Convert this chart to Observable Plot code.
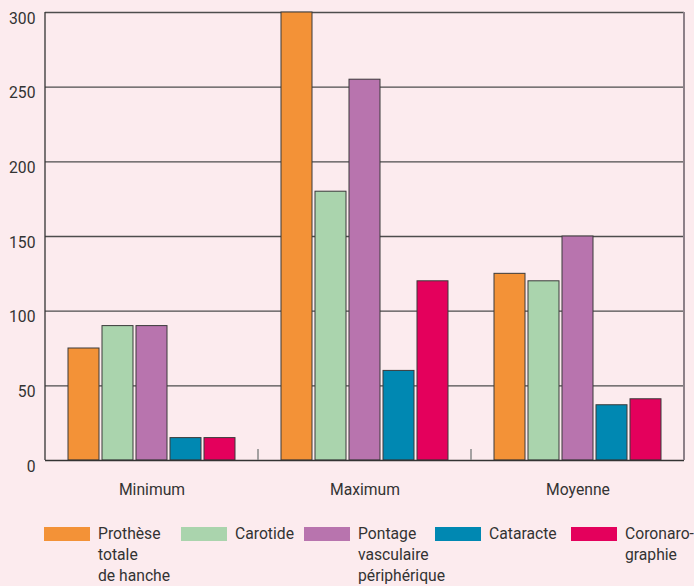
<!DOCTYPE html>
<html>
<head>
<meta charset="utf-8">
<script src="https://cdn.jsdelivr.net/npm/d3@7"></script>
<script src="https://cdn.jsdelivr.net/npm/@observablehq/plot@0.6"></script>
<style>
  html, body { margin: 0; padding: 0; background: #fcebee; }
  body { width: 694px; height: 586px; overflow: hidden; font-family: Roboto, "Noto Sans", sans-serif; color: #333; }
  #legend { position: relative; height: 86px; }
  .item { position: absolute; top: 23px; display: flex; align-items: flex-start; }
  .sw { width: 46px; height: 14px; margin-top: 4px; margin-right: 8px; flex: none; }
  .lab { font-size: 15.7px; line-height: 21px; white-space: nowrap; color: #333; }
</style>
</head>
<body>
<div id="chart"></div>
<div id="legend"></div>
<script>
const groups = ["Minimum", "Maximum", "Moyenne"];
const series = ["Prothèse totale de hanche", "Carotide", "Pontage vasculaire périphérique", "Cataracte", "Coronarographie"];
const legendLines = [["Prothèse", "totale", "de hanche"], ["Carotide"], ["Pontage", "vasculaire", "périphérique"], ["Cataracte"], ["Coronaro-", "graphie"]];
const colors = ["#f39237", "#aad4ad", "#b874ae", "#0088b2", "#e4005c"];
const minimum = [75, 90, 90, 15, 15];
const maximum = [300, 180, 255, 60, 120];
const moyenne = [125, 120, 150, 37, 41];
const yTicks = [0, 50, 100, 150, 200, 250, 300];

const valuesByGroup = [minimum, maximum, moyenne];
const data = [];
groups.forEach((g, gi) => series.forEach((s, si) => data.push({group: g, series: s, value: valuesByGroup[gi][si]})));

const plot = Plot.plot({
  width: 694,
  height: 500,
  marginLeft: 44,
  marginRight: 9,
  marginTop: 12,
  marginBottom: 40,
  style: {background: "transparent", fontFamily: "Roboto, 'Noto Sans', sans-serif", fontSize: "15.7px", color: "#333"},
  fx: {domain: groups, padding: 0, label: null},
  x: {domain: series, paddingInner: 0.094, paddingOuter: 0.677, axis: null},
  y: {domain: [0, 300], axis: null},
  color: {domain: series, range: colors},
  marks: [
    Plot.ruleY(yTicks.filter(d => d > 0), {stroke: "#4d4d4d", strokeWidth: 1.3}),
    Plot.barY(data, {fx: "group", x: "series", y: "value", fill: "series", stroke: "#3a3a3a", strokeWidth: 1}),
    Plot.ruleY([0], {stroke: "#333", strokeWidth: 1.3}),
    Plot.axisY({ticks: yTicks, tickSize: 0, tickPadding: 10, dy: 6, label: null, fontSize: 15.7}),
    Plot.axisFx({anchor: "bottom", tickSize: 0, tickPadding: 23, label: null, fontSize: 15.7})
  ]
});
document.getElementById("chart").appendChild(plot);

// frame lines and group separators derived from the plot's scales
const fx = plot.scale("fx");
const y = plot.scale("y");
const svg = d3.select(plot);
const left = fx.apply(groups[0]);
const right = fx.apply(groups[groups.length - 1]) + fx.step;
const y0 = y.apply(0), yTop = y.apply(300);
svg.append("line").attr("x1", left).attr("x2", left).attr("y1", yTop).attr("y2", y0)
  .attr("stroke", "#333").attr("stroke-width", 1.3);
svg.append("line").attr("x1", right).attr("x2", right).attr("y1", yTop).attr("y2", y0)
  .attr("stroke", "#8c8088").attr("stroke-width", 2);
groups.slice(1).forEach(g => {
  const xb = fx.apply(g);
  svg.append("line").attr("x1", xb).attr("x2", xb).attr("y1", y0).attr("y2", y0 - 11)
    .attr("stroke", "#888").attr("stroke-width", 1.5);
});

// legend
const lefts = [44, 181, 304, 435, 571];
const legend = d3.select("#legend");
series.forEach((s, i) => {
  const it = legend.append("div").attr("class", "item").style("left", lefts[i] + "px");
  it.append("div").attr("class", "sw").style("background", colors[i]);
  it.append("div").attr("class", "lab").html(legendLines[i].join("<br>"));
});
</script>
</body>
</html>
